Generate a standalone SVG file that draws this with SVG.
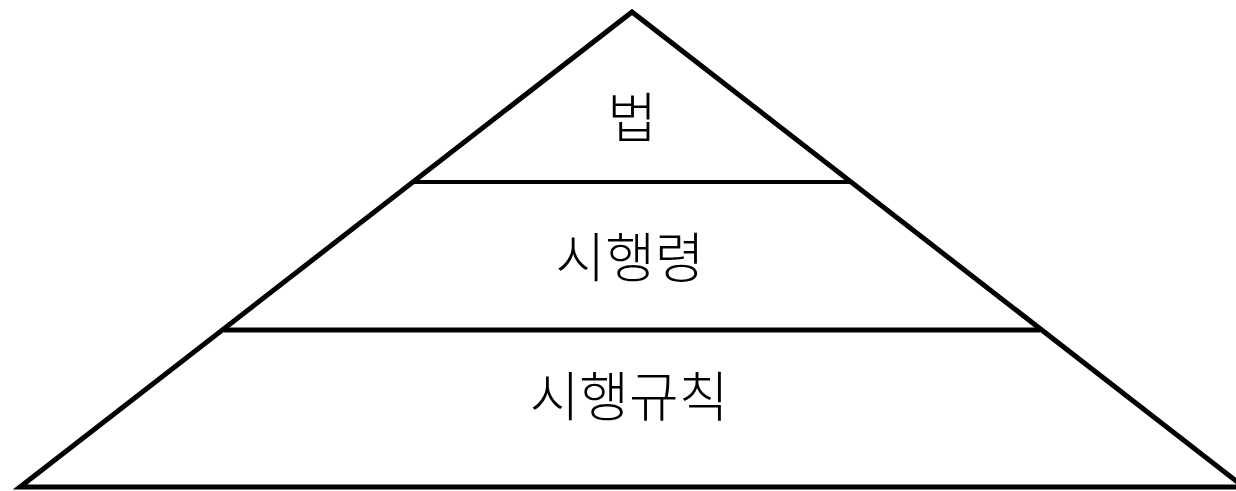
<svg xmlns="http://www.w3.org/2000/svg" width="1236" height="491" viewBox="0 0 1236 491">
<style>
.edge{stroke:#000;stroke-width:5;fill:none;stroke-linejoin:miter}
.lbl{font-family:"Noto Sans CJK KR","Noto Sans",sans-serif;font-size:54px;font-weight:300;fill:#000;text-anchor:middle}
</style>
<rect width="1236" height="491" fill="#fff"/>
<g id="connectors">
<path class="edge" d="M20,487 L632,12 L1244,487 Z"/>
<line class="edge" x1="413" y1="182" x2="851" y2="182" style="stroke-width:4"/>
<line class="edge" x1="224" y1="330" x2="1040" y2="330"/>
</g>
<g id="node-law"><text class="lbl" x="632" y="138">법</text></g>
<g id="node-decree"><text class="lbl" x="630" y="278">시행령</text></g>
<g id="node-rules"><text class="lbl" x="629" y="417">시행규칙</text></g>
</svg>
